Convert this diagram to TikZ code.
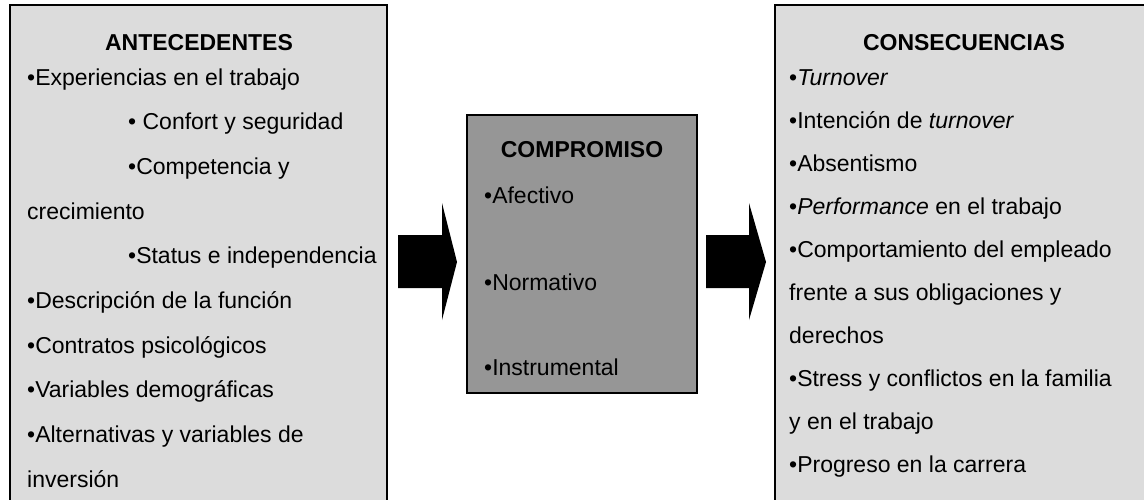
\documentclass[tikz,border=0pt]{standalone}
\usepackage{fontspec}
\setmainfont{Liberation Sans}
\definecolor{lightbox}{HTML}{DCDCDC}
\definecolor{midbox}{HTML}{969696}
\begin{document}
\begin{tikzpicture}[x=1pt,y=-1pt,
  sidebox/.style={draw=black,line width=2pt,fill=lightbox},
  centrebox/.style={draw=black,line width=2pt,fill=midbox},
  txt/.style={anchor=base west,inner sep=0pt,font=\fontsize{23}{28}\selectfont},
  ttl/.style={anchor=base,inner sep=0pt,font=\fontsize{23}{28}\selectfont\bfseries},
  blockarrow/.style={fill=black,draw=none}]
\useasboundingbox (0,0) rectangle (1144,499);
\clip (0,0) rectangle (1144,499);
% boxes
\draw[sidebox] (10,5) rectangle (387,520);
\draw[centrebox] (467,115) rectangle (697,393);
\draw[sidebox] (775,5) rectangle (1160,520);
% arrows
\fill[blockarrow] (398,235) -- (442,235) -- (442,203) -- (457,262) -- (442,320) -- (442,288) -- (398,288) -- cycle;
\fill[blockarrow] (706,235) -- (749,235) -- (749,203) -- (766,262) -- (749,320) -- (749,288) -- (706,288) -- cycle;
% left text
\node[ttl] (antT) at (199,50) {ANTECEDENTES};
\node[txt] (a1) at (27,85) {•Experiencias en el trabajo};
\node[txt] (a2) at (128,129.7) {• Confort y seguridad};
\node[txt] (a3) at (128,174.4) {•Competencia y};
\node[txt] (a4) at (27,219.1) {crecimiento};
\node[txt] (a5) at (128,263.8) {•Status e independencia};
\node[txt] (a6) at (27,308.5) {•Descripción de la función};
\node[txt] (a7) at (27,353.2) {•Contratos psicológicos};
\node[txt] (a8) at (27,397.9) {•Variables demográficas};
\node[txt] (a9) at (27,442.6) {•Alternativas y variables de};
\node[txt] (a10) at (27,487.3) {inversión};
% middle text
\node[ttl] (cmpT) at (582,157) {COMPROMISO};
\node[txt] (m1) at (484,203) {•Afectivo};
\node[txt] (m2) at (484,290) {•Normativo};
\node[txt] (m3) at (484,375) {•Instrumental};
% right text
\node[ttl] (conT) at (964,50) {CONSECUENCIAS};
\node[txt] (c1) at (789,85) {•\textit{Turnover}};
\node[txt] (c2) at (789,128) {•Intención de \textit{turnover}};
\node[txt] (c3) at (789,171) {•Absentismo};
\node[txt] (c4) at (789,214) {•\textit{Performance} en el trabajo};
\node[txt] (c5) at (789,257) {•Comportamiento del empleado};
\node[txt] (c6) at (789,300) {frente a sus obligaciones y};
\node[txt] (c7) at (789,343) {derechos};
\node[txt] (c8) at (789,386) {•Stress y conflictos en la familia};
\node[txt] (c9) at (789,429) {y en el trabajo};
\node[txt] (c10) at (789,472) {•Progreso en la carrera};
\end{tikzpicture}
\end{document}
